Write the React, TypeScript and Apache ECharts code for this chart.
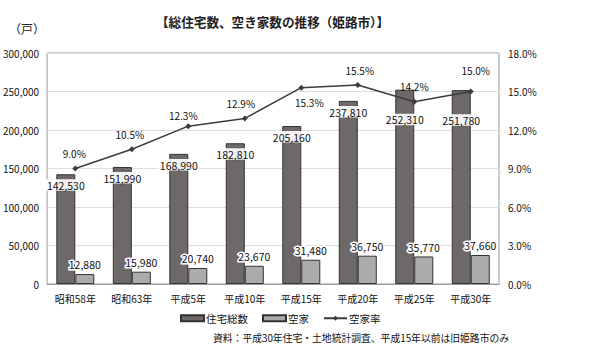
import React, { useEffect, useRef } from "react";
import * as echarts from "echarts";

const categories = ["昭和58年", "昭和63年", "平成5年", "平成10年", "平成15年", "平成20年", "平成25年", "平成30年"];
const totalHouses = [142530, 151990, 168990, 182810, 205160, 237810, 252310, 251780];
const vacantHouses = [12880, 15980, 20740, 23670, 31480, 36750, 35770, 37660];
const vacancyRate = [9.0, 10.5, 12.3, 12.9, 15.3, 15.5, 14.2, 15.0];
const leftTicks = { min: 0, max: 300000, interval: 50000 };
const rightTicks = { min: 0, max: 18, interval: 3 };

const FONT = "'Noto Sans CJK JP', 'Noto Sans', sans-serif";

export default function App() {
  const ref = useRef<HTMLDivElement>(null);
  useEffect(() => {
    if (!ref.current) return;
    const chart = echarts.init(ref.current, null, { renderer: "svg" });
    const fmt = (v: number) => v.toLocaleString("en-US");
    const totalOffsets = [0, 0, 0, 0, 0, 0, 19, 19];
    const rateLabel: any[] = [
      { position: "top", offset: [-1, 0] },
      { position: "top", offset: [-2, 0] },
      { position: "top", offset: [-5, 4] },
      { position: "top", offset: [-4, 0] },
      { position: "bottom", offset: [8, 0] },
      { position: "top", offset: [2, 0] },
      { position: "top", offset: [0, 0] },
      { position: "top", offset: [5, -6] },
    ];
    chart.setOption({
      animation: false,
      textStyle: { fontFamily: FONT },
      title: {
        text: "【総住宅数、空き家数の推移（姫路市）】",
        left: 151,
        top: 10,
        textStyle: { fontSize: 12.6, fontWeight: "bold", color: "#222", fontFamily: FONT },
      },
      legend: {
        left: 175,
        top: 308,
        itemWidth: 23,
        itemHeight: 6,
        itemGap: 14,
        textStyle: { fontSize: 10.5, color: "#111", fontFamily: FONT, padding: [0, 0, 0, -3] },
        data: [
          { name: "住宅総数", icon: "rect" },
          { name: "空家", icon: "rect" },
          { name: "空家率" },
        ],
      },
      grid: {
        left: 45,
        right: 92,
        top: 53,
        bottom: 75,
        show: true,
        borderColor: "#999",
        borderWidth: 1,
      },
      xAxis: {
        type: "category",
        data: categories,
        axisTick: { show: false },
        axisLine: { lineStyle: { color: "#999" } },
        axisLabel: { color: "#111", fontSize: 10, margin: 9, fontFamily: FONT },
      },
      yAxis: [
        {
          type: "value",
          ...leftTicks,
          axisLine: { show: false },
          axisTick: { show: false },
          splitLine: { lineStyle: { color: "#ddd" } },
          axisLabel: { color: "#111", fontSize: 10, margin: 8, formatter: (v: number) => fmt(v), fontFamily: FONT },
        },
        {
          type: "value",
          ...rightTicks,
          axisLine: { show: false },
          axisTick: { show: false },
          splitLine: { show: false },
          axisLabel: { color: "#111", fontSize: 10, margin: 9, formatter: (v: number) => v.toFixed(1) + "%", fontFamily: FONT },
        },
      ],
      series: [
        {
          name: "住宅総数",
          type: "bar",
          barWidth: 19,
          barGap: "0%",
          itemStyle: { color: "#6e6868", borderColor: "#333", borderWidth: 1 },
          data: totalHouses.map((v, i) => ({
            value: v,
            label: { offset: [0, totalOffsets[i]] },
          })),
          label: {
            show: true,
            position: "insideTop",
            distance: 5,
            color: "#111",
            fontSize: 10.5,
            fontFamily: FONT,
            backgroundColor: "rgba(255,255,255,0.92)",
            padding: [1, 1, 0, 1],
            formatter: (p: any) => fmt(p.value),
          },
        },
        {
          name: "空家",
          type: "bar",
          barWidth: 19,
          itemStyle: { color: "#ababab", borderColor: "#333", borderWidth: 1 },
          data: vacantHouses,
          label: {
            show: true,
            position: "top",
            distance: 4,
            color: "#111",
            fontSize: 10.5,
            fontFamily: FONT,
            textBorderColor: "#fff",
            textBorderWidth: 3,
            formatter: (p: any) => fmt(p.value),
          },
        },
        {
          name: "空家率",
          type: "line",
          yAxisIndex: 1,
          symbol: "diamond",
          symbolSize: 6,
          lineStyle: { color: "#3c3c3c", width: 1.5 },
          itemStyle: { color: "#3c3c3c" },
          data: vacancyRate.map((v, i) => ({ value: v, label: rateLabel[i] })),
          label: {
            show: true,
            distance: 7,
            color: "#111",
            fontSize: 10,
            fontFamily: FONT,
            formatter: (p: any) => Number(p.value).toFixed(1) + "%",
          },
        },
      ],
      graphic: [
        {
          type: "text",
          left: 9,
          top: 22,
          style: { text: "（戸）", fontSize: 12, fill: "#222", fontFamily: FONT },
        },
        {
          type: "text",
          left: 213,
          top: 333,
          style: {
            text: "資料：平成30年住宅・土地統計調査、平成15年以前は旧姫路市のみ",
            fontSize: 9.8,
            fill: "#111",
            fontFamily: FONT,
          },
        },
      ],
    });
    return () => chart.dispose();
  }, []);
  return <div ref={ref} style={{ position: "fixed", left: 0, top: 0, width: 591, height: 359, background: "#fff" }} />;
}
